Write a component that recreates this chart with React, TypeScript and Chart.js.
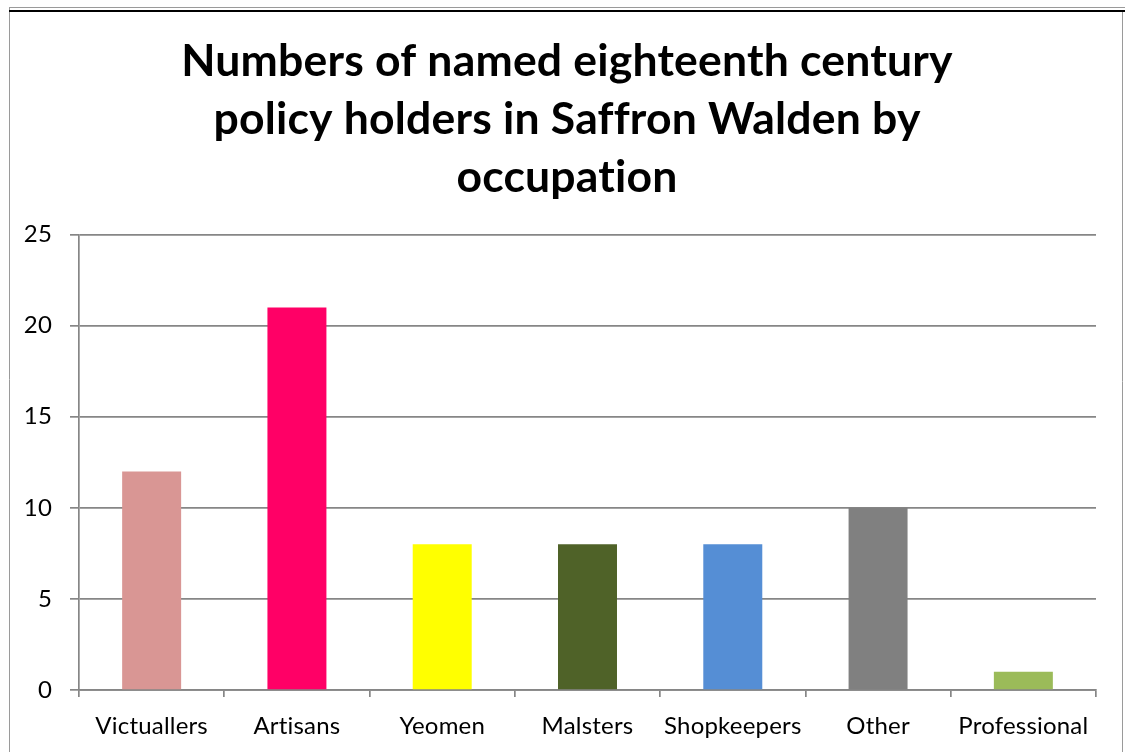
import React, { useEffect, useRef } from "react";
import { Chart, registerables } from "chart.js";

Chart.register(...registerables);

const titleLines = [
  "Numbers of named eighteenth century",
  "policy holders in Saffron Walden by",
  "occupation",
];
const categories = ["Victuallers", "Artisans", "Yeomen", "Malsters", "Shopkeepers", "Other", "Professional"];
const counts = [12, 21, 8, 8, 8, 10, 1];
const barColors = ["#D99694", "#FF0066", "#FFFF00", "#4F6228", "#558ED5", "#808080", "#9BBB59"];
const yTicks = [0, 5, 10, 15, 20, 25];

const FONT = "Lato, 'Open Sans', sans-serif";
const GRID = "#868686";

const framePlugin = {
  id: "frame",
  afterLayout(chart: any) {
    // let the y tick labels extend into the left padding without clipping
    if (chart.scales.y) chart.scales.y.left = 10;
  },
  beforeDraw(chart: any) {
    const ctx = chart.ctx;
    const W = chart.width;
    const H = chart.height;
    try {
      (ctx as any).letterSpacing = "0.2px";
    } catch (e) {}
    ctx.save();
    ctx.fillStyle = "#ffffff";
    ctx.fillRect(0, 0, W, H);
    ctx.strokeStyle = "#9a9a9a";
    ctx.lineWidth = 1;
    ctx.beginPath();
    ctx.moveTo(9, 7.5);
    ctx.lineTo(W, 7.5);
    ctx.moveTo(9.5, 7);
    ctx.lineTo(9.5, H);
    ctx.moveTo(1122.5, 11);
    ctx.lineTo(1122.5, H);
    ctx.stroke();
    ctx.strokeStyle = "#000000";
    ctx.lineWidth = 2;
    ctx.beginPath();
    ctx.moveTo(9, 11);
    ctx.lineTo(W, 11);
    ctx.stroke();
    ctx.restore();
  },
};

export default function App() {
  const ref = useRef<HTMLCanvasElement | null>(null);
  useEffect(() => {
    if (!ref.current) return;
    const chart = new Chart(ref.current, {
      type: "bar",
      data: {
        labels: categories,
        datasets: [
          {
            data: counts,
            backgroundColor: barColors,
            borderWidth: 0,
            barPercentage: 0.406,
            categoryPercentage: 1,
          },
        ],
      },
      options: {
        responsive: false,
        animation: false,
        devicePixelRatio: 1,
        layout: { padding: { left: 38, right: 29, top: 12, bottom: 0 } },
        plugins: {
          legend: { display: false },
          tooltip: { enabled: false },
          title: {
            display: true,
            text: titleLines,
            color: "#000000",
            font: { family: FONT, size: 44.5, weight: "bold", lineHeight: 1.3 },
            padding: { top: 21, bottom: 28 },
          },
        },
        scales: {
          x: {
            offset: true,
            grid: {
              display: true,
              drawOnChartArea: false,
              drawTicks: true,
              tickLength: 7,
              color: GRID,
              lineWidth: 1.7,
              offset: true,
            },
            border: { display: true, color: GRID, width: 1.7 },
            ticks: {
              color: "#000000",
              font: { family: FONT, size: 24 },
              padding: 15,
              maxRotation: 0,
              autoSkip: false,
            },
            afterFit(scale: any) {
              scale.height = 62;
            },
          },
          y: {
            min: 0,
            max: 25,
            afterBuildTicks(scale: any) {
              scale.ticks = yTicks.map((v) => ({ value: v }));
            },
            grid: {
              color: GRID,
              lineWidth: 1.7,
              tickLength: 9,
              drawTicks: true,
            },
            border: { display: true, color: GRID, width: 1.7 },
            ticks: {
              color: "#000000",
              font: { family: FONT, size: 24 },
              padding: 18,
            },
            afterFit(scale: any) {
              scale.width = 41;
            },
          },
        },
      },
      plugins: [framePlugin],
    });
    return () => chart.destroy();
  }, []);
  return (
    <div style={{ position: "absolute", left: 0, top: 0, width: 1125, height: 752 }}>
      <canvas ref={ref} width={1125} height={752} style={{ display: "block" }} />
    </div>
  );
}
